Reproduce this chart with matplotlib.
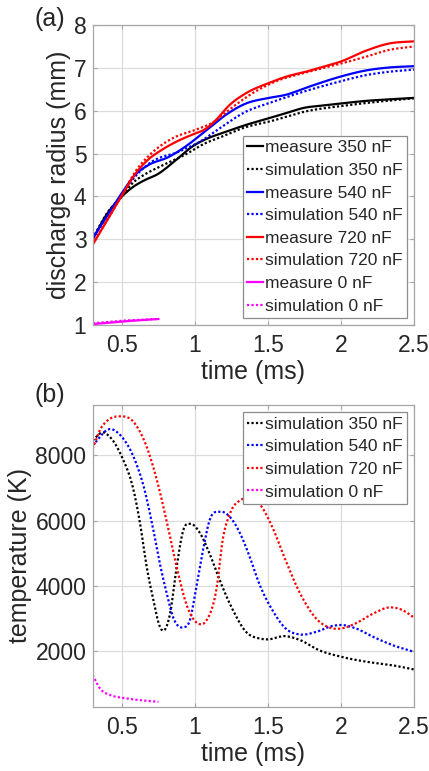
import numpy as np
import matplotlib
matplotlib.use('Agg')
import matplotlib.pyplot as plt

plt.rcParams['font.family'] = ['Liberation Sans', 'DejaVu Sans']

# ---- panel (a): discharge radius (mm) vs time (ms)
t_m350 = [0.3, 0.4, 0.5, 0.58, 0.65, 0.75, 0.86, 0.98, 1.09, 1.18, 1.35, 1.5, 1.62, 1.75, 1.87, 2.0, 2.17, 2.35, 2.5]
r_m350 = [3.0, 3.6, 4.0, 4.23, 4.37, 4.53, 4.82, 5.16, 5.36, 5.47, 5.67, 5.82, 5.94, 6.07, 6.12, 6.17, 6.23, 6.27, 6.3]
t_s350 = [0.3, 0.4, 0.5, 0.57, 0.65, 0.75, 0.93, 1.07, 1.18, 1.35, 1.5, 1.78, 2.0, 2.28, 2.5]
r_s350 = [3.02, 3.62, 4.0, 4.3, 4.5, 4.68, 4.97, 5.24, 5.39, 5.62, 5.74, 6.0, 6.11, 6.22, 6.29]

t_m540 = [0.3, 0.4, 0.5, 0.59, 0.68, 0.82, 0.95, 1.08, 1.21, 1.35, 1.49, 1.62, 1.78, 2.0, 2.17, 2.33, 2.5]
r_m540 = [3.02, 3.55, 4.08, 4.5, 4.73, 4.92, 5.2, 5.55, 5.9, 6.17, 6.29, 6.37, 6.56, 6.8, 6.94, 7.01, 7.04]
t_s540 = [0.3, 0.4, 0.5, 0.6, 0.7, 0.886, 1.045, 1.17, 1.35, 1.5, 1.71, 2.0, 2.17, 2.33, 2.5]
r_s540 = [3.02, 3.55, 4.05, 4.5, 4.8, 5.04, 5.3, 5.59, 5.98, 6.17, 6.41, 6.69, 6.83, 6.91, 6.96]

t_m720 = [0.3, 0.4, 0.5, 0.59, 0.68, 0.77, 0.886, 0.98, 1.07, 1.14, 1.236, 1.35, 1.5, 1.62, 1.78, 1.85, 2.0, 2.17, 2.33, 2.5]
r_m720 = [2.87, 3.45, 4.02, 4.52, 4.86, 5.08, 5.3, 5.44, 5.57, 5.77, 6.13, 6.41, 6.64, 6.79, 6.93, 7.0, 7.15, 7.4, 7.57, 7.62]
t_s720 = [0.3, 0.4, 0.5, 0.6, 0.7, 0.86, 1.0, 1.12, 1.26, 1.395, 1.55, 1.78, 2.0, 2.17, 2.33, 2.5]
r_s720 = [2.9, 3.45, 4.03, 4.62, 5.0, 5.38, 5.55, 5.72, 6.09, 6.41, 6.68, 6.91, 7.1, 7.26, 7.42, 7.5]

t_m0 = [0.3, 0.4, 0.5, 0.62, 0.75]
r_m0 = [1.02, 1.05, 1.08, 1.11, 1.14]
t_s0 = [0.3, 0.4, 0.5, 0.62, 0.75]
r_s0 = [1.04, 1.07, 1.1, 1.12, 1.14]

# ---- panel (b): temperature (K) vs time (ms), simulations
t_T350 = [0.3, 0.37, 0.42, 0.5, 0.58, 0.625, 0.67, 0.716, 0.76, 0.77, 0.83, 0.875, 0.92, 0.97, 1.03, 1.1, 1.17, 1.26, 1.35, 1.44, 1.49, 1.62, 1.72, 1.85, 2.0, 2.17, 2.35, 2.5]
T350 = [8450, 8700, 8550, 7950, 6930, 5900, 4580, 3560, 2750, 2665, 3150, 4580, 5700, 5900, 5650, 4990, 4170, 3260, 2590, 2390, 2360, 2460, 2340, 2030, 1830, 1680, 1570, 1440]
t_T540 = [0.3, 0.42, 0.5, 0.58, 0.65, 0.716, 0.76, 0.807, 0.85, 0.92, 0.966, 1.01, 1.06, 1.1, 1.17, 1.24, 1.31, 1.375, 1.44, 1.53, 1.62, 1.72, 1.83, 1.94, 2.01, 2.1, 2.22, 2.35, 2.5]
T540 = [8300, 8800, 8560, 7950, 7030, 5700, 4680, 3770, 3050, 2730, 2950, 3970, 5200, 6000, 6270, 6110, 5600, 4890, 4070, 3260, 2700, 2510, 2590, 2770, 2800, 2700, 2440, 2190, 1980]
t_T720 = [0.3, 0.35, 0.42, 0.48, 0.58, 0.67, 0.74, 0.81, 0.875, 0.94, 1.02, 1.08, 1.15, 1.19, 1.24, 1.31, 1.375, 1.44, 1.53, 1.62, 1.72, 1.83, 1.94, 2.01, 2.1, 2.22, 2.33, 2.42, 2.5]
T720 = [8200, 8770, 9120, 9190, 9020, 8255, 7235, 5910, 4580, 3460, 2850, 2950, 3970, 5400, 6215, 6620, 6670, 6520, 5800, 4790, 3770, 3000, 2700, 2700, 2850, 3150, 3340, 3260, 3030]
t_T0 = [0.3, 0.35, 0.42, 0.5, 0.625, 0.75]
T0 = [1270, 860, 655, 575, 500, 450]

colors = {'350': 'black', '540': '#0000ff', '720': '#ff0000', '0': '#ff00ff'}
dot = (0, (1, 1))
txt = '#262626'


def smooth(t, v, n=300):
    # cubic hermite through the read points
    t = np.asarray(t, float)
    v = np.asarray(v, float)
    ts = np.linspace(t[0], t[-1], n)
    h = np.diff(t)
    s = np.diff(v) / h
    d = np.zeros_like(v)
    d[1:-1] = (s[:-1] * h[1:] + s[1:] * h[:-1]) / (h[:-1] + h[1:])
    d[0], d[-1] = s[0], s[-1]
    k = np.clip(np.searchsorted(t, ts, side='right') - 1, 0, len(t) - 2)
    u = (ts - t[k]) / h[k]
    h00 = 2 * u**3 - 3 * u**2 + 1
    h10 = u**3 - 2 * u**2 + u
    h01 = -2 * u**3 + 3 * u**2
    h11 = u**3 - u**2
    out = h00 * v[k] + h10 * h[k] * d[k] + h01 * v[k + 1] + h11 * h[k] * d[k + 1]
    return ts, out


def style(ax):
    ax.grid(True, color='#dcdcdc', lw=0.9)
    ax.set_axisbelow(True)
    for sp in ax.spines.values():
        sp.set_color('#a6a6a6')
        sp.set_linewidth(0.9)
    ax.tick_params(direction='in', length=3, color='#a6a6a6', labelsize=16.5,
                   labelcolor=txt, top=True, right=True)
    ax.tick_params(axis='x', pad=6.5)
    ax.tick_params(axis='y', pad=4.5)
    ax.set_xlim(0.3, 2.5)
    ax.set_xticks([0.5, 1, 1.5, 2, 2.5])
    ax.set_xticklabels(['0.5', '1', '1.5', '2', '2.5'])
    ax.set_xlabel('time (ms)', fontsize=18, color=txt)
    ax.xaxis.set_label_coords(0.5, -0.118)


def legend(ax, loc):
    leg = ax.legend(loc=loc, fontsize=12.5, handlelength=0.95, handletextpad=0.1,
                    labelspacing=0.43, borderpad=0.25, borderaxespad=0.4,
                    fancybox=False, edgecolor='#8c8c8c', framealpha=1)
    leg.get_frame().set_linewidth(0.9)
    for tx in leg.get_texts():
        tx.set_color(txt)


fig = plt.figure(figsize=(4.29, 7.71), dpi=100)
ax1 = fig.add_axes([0.216, 0.5785, 0.749, 0.389])
ax2 = fig.add_axes([0.216, 0.0834, 0.749, 0.391])

series_a = [
    (t_m350, r_m350, '350', '-', 'measure 350 nF'),
    (t_s350, r_s350, '350', dot, 'simulation 350 nF'),
    (t_m540, r_m540, '540', '-', 'measure 540 nF'),
    (t_s540, r_s540, '540', dot, 'simulation 540 nF'),
    (t_m720, r_m720, '720', '-', 'measure 720 nF'),
    (t_s720, r_s720, '720', dot, 'simulation 720 nF'),
    (t_m0, r_m0, '0', '-', 'measure 0 nF'),
    (t_s0, r_s0, '0', dot, 'simulation 0 nF'),
]
for t, v, c, ls, lab in series_a:
    ts, vs = smooth(t, v)
    ax1.plot(ts, vs, color=colors[c], ls=ls, lw=1.6, label=lab)
style(ax1)
ax1.set_ylim(1, 8)
ax1.set_yticks(range(1, 9))
ax1.set_ylabel('discharge radius (mm)', fontsize=18, color=txt)
ax1.yaxis.set_label_coords(-0.068, 0.5)
legend(ax1, 'lower right')

series_b = [
    (t_T350, T350, '350', 'simulation 350 nF'),
    (t_T540, T540, '540', 'simulation 540 nF'),
    (t_T720, T720, '720', 'simulation 720 nF'),
    (t_T0, T0, '0', 'simulation 0 nF'),
]
for t, v, c, lab in series_b:
    ts, vs = smooth(t, v)
    ax2.plot(ts, vs, color=colors[c], ls=dot, lw=1.6, label=lab)
style(ax2)
ax2.set_ylim(300, 9530)
ax2.set_yticks([2000, 4000, 6000, 8000])
ax2.set_ylabel('temperature (K)', fontsize=18, color=txt)
ax2.yaxis.set_label_coords(-0.19, 0.5)
legend(ax2, 'upper right')

fig.text(0.1166, 0.9754, '(a)', fontsize=18, color=txt, ha='center', va='center')
fig.text(0.1166, 0.4877, '(b)', fontsize=18, color=txt, ha='center', va='center')

fig.savefig('out.png', dpi=100)
